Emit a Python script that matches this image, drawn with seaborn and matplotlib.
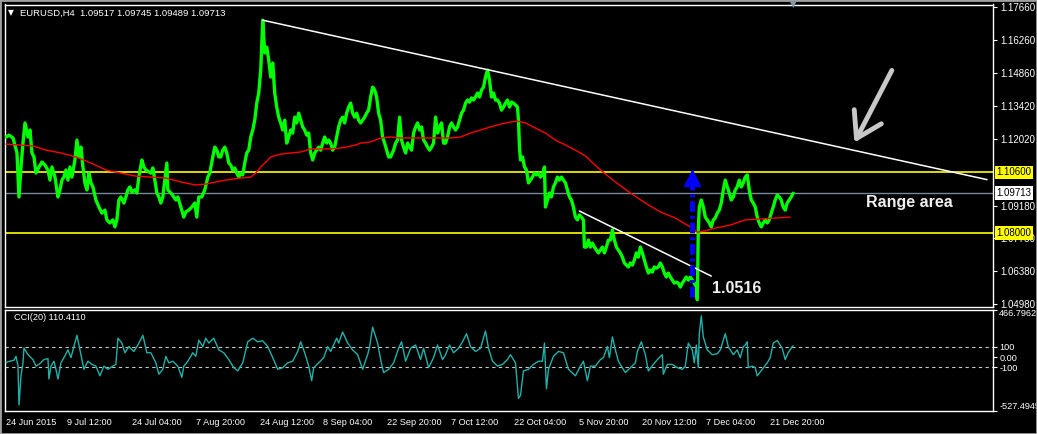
# EURUSD H4 chart with CCI(20) panel, MetaTrader style

import pandas as pd
import seaborn as sns
import matplotlib.pyplot as plt
from matplotlib.patches import Rectangle
from matplotlib.transforms import blended_transform_factory

# Price bars (bar index, close)
bar = [5, 8, 12, 16, 18, 20, 22, 24, 27, 29,
       31, 33, 35, 38, 41, 44, 47, 49, 51, 54,
       57, 59, 61, 63, 65, 67, 69, 71, 74, 76,
       78, 80, 82, 84, 86, 88, 90, 92, 95, 98,
       101, 104, 106, 109, 112, 114, 116, 118, 120, 123,
       125, 127, 129, 131, 134, 136, 138, 141, 143, 145,
       148, 150, 152, 154, 156, 158, 160, 162, 164, 166,
       167, 170, 173, 175, 177, 180, 183, 185, 188, 191,
       194, 196, 198,
       201, 204, 207, 209, 212, 214, 216, 218, 220, 222,
       224, 226, 228, 230, 232, 234, 236, 238, 240, 242,
       244, 246, 248, 250, 252, 254, 256, 258, 260, 262,
       264, 266, 268, 270, 272, 274, 276, 278, 280, 282,
       284, 286, 288, 290, 292, 294, 296, 298, 300, 302,
       304, 306, 308, 310, 312, 314, 316, 318, 320, 322,
       324, 326, 328, 330, 332, 334, 336, 338, 340, 342,
       344, 346, 348, 350, 352, 354, 356, 358, 360, 362,
       364, 366, 368, 370, 372, 374, 376, 378, 380, 382,
       384, 386, 388,
       390, 393, 395, 397, 399, 401, 403, 405, 407, 409,
       411, 413, 415, 417, 419, 421, 423, 425, 427, 429,
       431, 433, 435, 437, 439, 441, 443, 445, 447, 449,
       451, 453, 455, 457, 459, 461, 463, 465, 467, 469,
       471, 473, 475, 477, 479, 481, 483, 485, 487, 489,
       491, 493, 495, 497, 499, 501, 503, 505, 507, 509,
       511, 513, 515, 517, 518, 519, 520, 522, 524, 526,
       528, 530, 532, 534, 536, 538, 540, 542, 544, 545,
       547, 549, 551, 553, 555, 557, 559, 561, 563, 565,
       567, 569, 571, 573, 575, 577, 579, 581, 583,
       584, 586, 588, 590, 592, 594, 596, 598, 600, 602,
       604, 606, 608, 610, 612, 614, 616, 618, 620, 622,
       624, 626, 628, 630, 632, 634, 636, 638, 640, 642,
       644, 646, 648, 650, 652, 654, 656, 658, 660, 662,
       664, 666, 668, 670, 672, 674, 676, 678, 680, 682,
       684, 686, 688, 690, 692, 694, 696, 697, 698, 699,
       701, 703, 705, 707, 709, 711, 713, 715, 717, 719,
       721, 723, 725, 727, 729, 731, 733, 735, 737, 739,
       741, 743, 745, 747, 749, 751, 753, 755, 757, 759,
       761, 763, 765, 767, 769, 771, 773, 775, 777, 779,
       781, 783, 785, 787, 789, 791, 793]

close = [1.1211, 1.1219, 1.1207, 1.1143, 1.0955, 1.1083, 1.1185, 1.1271, 1.1211, 1.1241,
         1.1143, 1.1126, 1.1057, 1.1083, 1.1104, 1.1091, 1.1070, 1.1027, 1.1083, 1.1040,
         1.0955, 1.0985, 1.1027, 1.1040, 1.1070, 1.1027, 1.1083, 1.1040, 1.1113, 1.1198,
         1.1126, 1.1168, 1.1083, 1.1015, 1.0985, 1.1057, 1.1015, 1.0998, 1.0942, 1.0912,
         1.0886, 1.0899, 1.0857, 1.0844, 1.0857, 1.0827, 1.0857, 1.0942, 1.0955, 1.0929,
         1.0955, 1.0985, 1.0998, 1.0976, 1.0985, 1.0972, 1.1040, 1.1113, 1.1083, 1.1070,
         1.1062, 1.1057, 1.1079, 1.1027, 1.0972, 1.0955, 1.0929, 1.0955, 1.1027, 1.1100,
         1.0985, 1.0972, 1.0955, 1.0942, 1.0955, 1.0912, 1.0869, 1.0891, 1.0899, 1.0912,
         1.0929, 1.0869, 1.0955,
         1.0955, 1.0985, 1.1040, 1.1057, 1.1126, 1.1168, 1.1155, 1.1126, 1.1126, 1.1155,
         1.1168, 1.1143, 1.1100, 1.1091, 1.1070, 1.1079, 1.1057, 1.1040, 1.1057, 1.1049,
         1.1100, 1.1143, 1.1155, 1.1211, 1.1241, 1.1283, 1.1356, 1.1399, 1.1497, 1.1710,
         1.1570, 1.1595, 1.1540, 1.1467, 1.1527, 1.1399, 1.1339, 1.1296, 1.1271, 1.1241,
         1.1283, 1.1185, 1.1211, 1.1241, 1.1228, 1.1296, 1.1271, 1.1313, 1.1283, 1.1254,
         1.1241, 1.1219, 1.1228, 1.1143, 1.1113, 1.1143, 1.1155, 1.1168, 1.1155, 1.1185,
         1.1211, 1.1185, 1.1198, 1.1185, 1.1155, 1.1168, 1.1211, 1.1254, 1.1283, 1.1296,
         1.1271, 1.1313, 1.1339, 1.1356, 1.1313, 1.1296, 1.1313, 1.1283, 1.1271, 1.1283,
         1.1296, 1.1313, 1.1326, 1.1382, 1.1424, 1.1412, 1.1382, 1.1313, 1.1283, 1.1211,
         1.1185, 1.1155, 1.1126,
         1.1126, 1.1155, 1.1185, 1.1198, 1.1296, 1.1198, 1.1168, 1.1143, 1.1185, 1.1168,
         1.1155, 1.1228, 1.1254, 1.1271, 1.1241, 1.1254, 1.1198, 1.1185, 1.1168, 1.1155,
         1.1168, 1.1185, 1.1296, 1.1228, 1.1254, 1.1271, 1.1185, 1.1185, 1.1211, 1.1254,
         1.1271, 1.1254, 1.1241, 1.1254, 1.1283, 1.1313, 1.1326, 1.1356, 1.1369, 1.1360,
         1.1378, 1.1369, 1.1382, 1.1399, 1.1382, 1.1412, 1.1424, 1.1467, 1.1497, 1.1454,
         1.1382, 1.1399, 1.1369, 1.1369, 1.1356, 1.1326, 1.1339, 1.1356, 1.1369, 1.1339,
         1.1360, 1.1356, 1.1348, 1.1339, 1.1283, 1.1168, 1.1113, 1.1126, 1.1083, 1.1070,
         1.1015, 1.1027, 1.1040, 1.1057, 1.1049, 1.1057, 1.1040, 1.1049, 1.1083, 1.0912,
         1.0942, 1.0972, 1.0955, 1.0998, 1.1015, 1.1040, 1.1027, 1.1040, 1.1027, 1.1015,
         1.0985, 1.0955, 1.0942, 1.0912, 1.0869, 1.0857, 1.0878, 1.0869, 1.0857,
         1.0741, 1.0741, 1.0771, 1.0741, 1.0758, 1.0741, 1.0728, 1.0716, 1.0728, 1.0741,
         1.0716, 1.0741, 1.0771, 1.0771, 1.0814, 1.0771, 1.0741, 1.0728, 1.0716, 1.0698,
         1.0673, 1.0664, 1.0656, 1.0673, 1.0664, 1.0686, 1.0716, 1.0698, 1.0741, 1.0716,
         1.0686, 1.0656, 1.0630, 1.0643, 1.0634, 1.0656, 1.0651, 1.0656, 1.0673, 1.0656,
         1.0630, 1.0613, 1.0630, 1.0613, 1.0600, 1.0587, 1.0591, 1.0587, 1.0570, 1.0587,
         1.0600, 1.0613, 1.0600, 1.0613, 1.0600, 1.0587, 1.0570, 1.0516, 1.0814, 1.0912,
         1.0942, 1.0912, 1.0869, 1.0857, 1.0844, 1.0827, 1.0857, 1.0865, 1.0886, 1.0899,
         1.0929, 1.0985, 1.1027, 1.0998, 1.0972, 1.0942, 1.0955, 1.0985, 1.0998, 1.1027,
         1.0998, 1.1015, 1.1040, 1.1049, 1.0985, 1.0942, 1.0929, 1.0912, 1.0869, 1.0844,
         1.0827, 1.0844, 1.0857, 1.0844, 1.0857, 1.0886, 1.0912, 1.0942, 1.0963, 1.0955,
         1.0942, 1.0912, 1.0899, 1.0929, 1.0942, 1.0955, 1.0971]

# Moving average (red)
ma_bar = [5, 33, 45, 60, 75, 90, 105, 120, 135, 150, 165, 180, 195, 205, 215, 225,
          240, 250, 255, 260, 265, 270, 280, 290, 300, 310, 320, 330, 340, 350, 355,
          360, 370, 380, 390, 400, 420, 450, 460, 470, 480, 490, 500, 510, 517, 525,
          535, 545, 555, 565, 575, 585, 600, 615, 630, 645, 660, 675, 690, 697, 705,
          715, 730, 745, 760, 775, 790]
ma = [1.1181, 1.1172, 1.1155, 1.1143, 1.1126, 1.1100, 1.1070, 1.1057, 1.1044, 1.1040,
      1.1036, 1.1019, 1.1006, 1.1010, 1.1019, 1.1027, 1.1036, 1.1040, 1.1057, 1.1083,
      1.1104, 1.1126, 1.1138, 1.1143, 1.1147, 1.1160, 1.1160, 1.1160, 1.1164, 1.1172,
      1.1177, 1.1185, 1.1190, 1.1207, 1.1211, 1.1207, 1.1207, 1.1207, 1.1211, 1.1228,
      1.1241, 1.1254, 1.1266, 1.1275, 1.1279, 1.1271, 1.1249, 1.1228, 1.1198, 1.1177,
      1.1155, 1.1130, 1.1070, 1.1019, 1.0972, 1.0929, 1.0891, 1.0865, 1.0827, 1.0805,
      1.0810, 1.0822, 1.0835, 1.0857, 1.0861, 1.0865, 1.0869]

# CCI(20)
cci_bar = [5, 13, 15, 17, 18, 20, 22, 23, 27, 32, 35, 38, 43, 47, 48, 50, 53, 55, 57, 60,
           63, 67, 70, 73, 76, 79, 83, 87, 91, 95, 99, 103, 107, 112, 115, 117, 121, 124,
           128, 133, 137, 142, 146, 150, 155, 158, 162, 165, 168, 172, 177, 181, 183, 187,
           192, 195, 198, 202, 205, 208, 213, 218, 223, 228, 233, 237, 242, 247, 252, 257,
           262, 267, 272, 277, 282, 287, 292, 297, 300, 304, 308, 311, 313, 318, 323, 327,
           330, 336, 338, 342, 347, 352, 357, 362, 367, 369, 372, 377, 380, 383, 388, 393,
           398, 401, 405, 410, 415, 420, 423, 428, 433, 437, 442, 445, 449, 453, 458, 462,
           466, 470, 475, 480, 485, 488, 492, 497, 502, 507, 510, 515, 518, 520, 523, 528,
           533, 538, 542, 544, 546, 548, 553, 558, 563, 568, 575, 580, 583, 587, 590, 595,
           600, 603, 607, 609, 612, 615, 618, 622, 625, 630, 635, 637, 641, 645, 648, 653,
           657, 662, 663, 667, 672, 677, 682, 685, 688, 692, 694, 696, 698, 699, 701, 703,
           707, 712, 717, 720, 725, 728, 733, 737, 740, 743, 745, 747, 748, 752, 755, 757,
           762, 767, 770, 773, 777, 782, 785, 788, 792, 793]
cci = [-50, -30, 8, -88, -468, -183, -53, 90, 24, -24, -88, -71, -24, -14, -214, -88, -40, -119, -214, -56,
       -5, 71, -5, 103, 214, 71, -119, -40, -71, -88, -183, -88, -119, -88, -71, 186, 138, 43,
       103, 56, 119, 214, 43, 43, -56, -167, -119, 8, -56, -40, -88, -198, -88, -40,
       43, 8, 167, 103, 186, 138, 186, 71, 43, -24, -103, -135, -56, 151, 186, 151,
       160, 103, -5, -119, -103, -56, -40, 56, 151, 43, -88, -230, -103, -56, -5, 103,
       56, 186, 138, 246, 138, 71, 24, -119, 24, 103, 294, 138, -24, -151, -119, -56,
       87, 151, -40, 87, 119, -24, 87, -103, -5, 119, -24, 24, 119, 43, 87, 151,
       230, 103, 56, 87, 256, 87, -40, -88, -71, -24, 24, -56, -405, -373, -135, -119,
       -71, -40, -40, 138, -310, -119, 8, 56, 43, -119, -183, -88, -40, -230, -88, -88,
       -24, -5, 103, -5, 198, 71, -40, -103, -151, -103, -56, 56, 151, 24, -135, -71,
       -24, 24, -167, -71, -71, -103, -119, -88, 138, 71, -56, 119, -103, 230, 405, 198,
       71, 24, 33, 71, 230, 103, 24, 71, -5, 103, 119, 151, -103, -88, -103, -183,
       -119, -56, -5, 138, 163, 87, -24, 43, 103, 110]

# Lines drawn on the chart
long_trend_bar = [262, 987]
long_trend_price = [1.1710, 1.1029]
short_trend_bar = [579, 711]
short_trend_price = [1.0895, 1.0617]
support_resistance = [1.1060, 1.0800]
last_price = 1.09713

price_ticks = [1.1766, 1.1626, 1.1486, 1.1342, 1.1202, 1.0918, 1.0778, 1.0638, 1.0498]
cci_ticks = [466.7962, 100, 0, -100, -527.4945]
cci_tick_labels = ['466.7962', '100', '0.00', '-100', '-527.4945']
date_bar = [5, 66, 131, 195, 259, 322, 386, 450, 514, 579, 642, 706, 770]
date_labels = ['24 Jun 2015', '9 Jul 12:00', '24 Jul 04:00', '7 Aug 20:00', '24 Aug 12:00',
               '8 Sep 04:00', '22 Sep 20:00', '7 Oct 12:00', '22 Oct 04:00', '5 Nov 20:00',
               '20 Nov 12:00', '7 Dec 04:00', '21 Dec 20:00']

sns.set_style("dark")
plt.rcParams['font.family'] = ['Liberation Sans', 'DejaVu Sans']

W, H = 1037, 434
fig = plt.figure(figsize=(W / 100, H / 100), dpi=100, facecolor='black')
ax = fig.add_axes([5 / W, (H - 307) / H, 988 / W, 302.5 / H])
ax2 = fig.add_axes([5 / W, (H - 411) / H, 988 / W, 101.5 / H])

for a in (ax, ax2):
    a.set_facecolor('black')
    a.set_xlim(4, 993)
    a.grid(False)
    for s in a.spines.values():
        s.set_color('white')
        s.set_linewidth(1)

# Main price panel
df = pd.DataFrame({'bar': bar, 'close': close})
df_ma = pd.DataFrame({'bar': ma_bar, 'ma': ma})
for lvl in support_resistance:
    ax.axhline(lvl, color='#ffff00', lw=1.2, zorder=1)
ax.axhline(last_price, color='#778899', lw=1, zorder=1)
sns.lineplot(data=df, x='bar', y='close', ax=ax, color='#00ff00', lw=2.4, zorder=3)
sns.lineplot(data=df_ma, x='bar', y='ma', ax=ax, color='#ff0000', lw=1, zorder=4)
ax.plot(long_trend_bar, long_trend_price, color='white', lw=1.1, zorder=4)
ax.plot(short_trend_bar, short_trend_price, color='white', lw=1.1, zorder=4)
ax.set_ylim(1.0485, 1.1777)

# blue dash-dot arrow from the low up to resistance
ax.plot([692, 692], [1.0527, 1.1030], color='#0000ff', lw=3.5, ls=(0, (2.2, 0.8, 0.6, 0.8)), zorder=5)
ax.plot([692], [1.1038], marker='^', ms=11, color='#0000ff', zorder=5)

# grey pointer arrow
ax.annotate('', xy=(853, 1.1177), xytext=(893, 1.1506),
            arrowprops=dict(arrowstyle='->,head_length=0.8,head_width=0.5',
                            color='#c8c8c8', lw=3.5, mutation_scale=22))

ax.text(866, 1.0933, 'Range area', color='#f0f0f0', fontsize=11.5, fontweight='bold',
        ha='left', va='center')
ax.text(712, 1.0566, '1.0516', color='#f0f0f0', fontsize=11.5, fontweight='bold',
        ha='left', va='center')

ax.yaxis.tick_right()
ax.set_yticks(price_ticks)
ax.set_yticklabels([f'{v:.5f}' for v in price_ticks])
ax.tick_params(axis='y', colors='white', labelsize=7, length=3, pad=2, width=0.8)
ax.set_xticks([])
ax.set_xlabel('')
ax.set_ylabel('')

trans = blended_transform_factory(ax.transAxes, ax.transData)
box_labels = [(1.1060, '1.10600', '#ffff00'), (last_price, '1.09713', 'white'), (1.0800, '1.08000', '#ffff00')]
for y, txt, fc in box_labels:
    ax.text(1.0035, y, txt, transform=trans, ha='left', va='center', fontsize=7, color='black',
            bbox=dict(boxstyle='square,pad=0.18', fc=fc, ec='none'), clip_on=False, zorder=6)

# CCI panel
df_cci = pd.DataFrame({'bar': cci_bar, 'cci': cci})
for lvl in (100, -100):
    ax2.axhline(lvl, color='#c8c8c8', lw=0.8, ls=(0, (3, 3)), zorder=1)
sns.lineplot(data=df_cci, x='bar', y='cci', ax=ax2, color='#20b2aa', lw=1, zorder=3)
ax2.set_ylim(-527.4945, 466.7962)
ax2.yaxis.tick_right()
ax2.set_yticks(cci_ticks)
ax2.set_yticklabels(cci_tick_labels)
ax2.tick_params(axis='y', colors='white', labelsize=6.6, length=3, pad=1.5, width=0.8)
tl = ax2.get_yticklabels()
tl[0].set_va('top')
tl[-1].set_va('bottom')
ax2.set_xticks(date_bar)
ax2.set_xticklabels(date_labels, ha='left')
ax2.tick_params(axis='x', colors='white', labelsize=6.6, length=3, pad=2, width=0.8)
ax2.set_xlabel('')
ax2.set_ylabel('')
ax2.text(9 / 988, 0.92, 'CCI(20) 110.4110', transform=ax2.transAxes, color='white',
         fontsize=6.6, ha='left', va='center')

# header and window decorations
fig.text(8 / W, 1 - 13 / H, '\u25bc', color='white', fontsize=5.5, ha='left', va='center',
         family='DejaVu Sans')
fig.text(20 / W, 1 - 13 / H, 'EURUSD,H4  1.09517 1.09745 1.09489 1.09713', color='white',
         fontsize=6.8, ha='left', va='center')
fig.text(793 / W, 1 - 5 / H, '\u25bc', color='#8496aa', fontsize=6, ha='center', va='center',
         family='DejaVu Sans')
fig.patches.append(Rectangle((0, 0), 1, 1, transform=fig.transFigure, fill=False,
                             edgecolor='#a0a0a0', lw=2))

fig.savefig('out.png', dpi=100, facecolor='black')
